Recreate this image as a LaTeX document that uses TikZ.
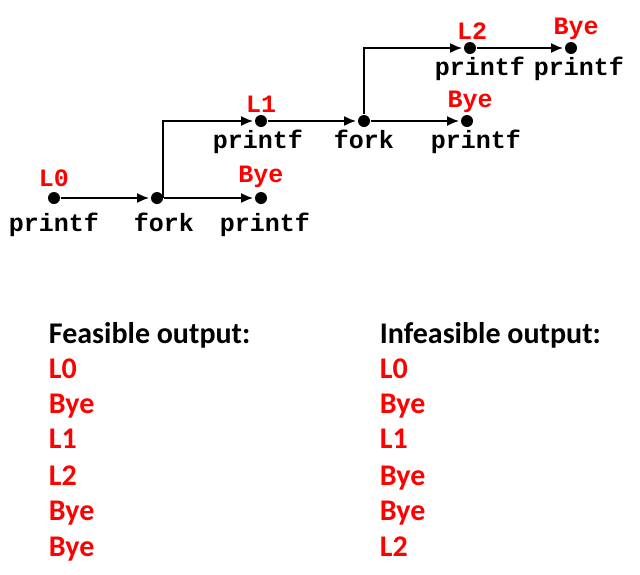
\documentclass[tikz,border=0pt]{standalone}
\usepackage{fontspec}
\setmainfont{Carlito}
\newfontfamily\codefont{Liberation Mono}
\usetikzlibrary{arrows.meta}

\begin{document}
\begin{tikzpicture}[->,>={Latex[length=12pt,width=10pt]},shorten >=1pt,line width=1.8pt,x=1pt,y=-1pt,
  vertex/.style={circle,fill=black,inner sep=0pt,minimum size=12pt},
  msg/.style={text=red,inner sep=1pt,font=\codefont\bfseries\fontsize{25}{25}\selectfont},
  call/.style={inner sep=1pt,font=\codefont\bfseries\fontsize{25}{25}\selectfont},
  txt/.style={anchor=base west,inner sep=0pt,font=\bfseries\fontsize{30}{30}\selectfont},
  redtxt/.style={txt,text=red}]
  \useasboundingbox (0,0) rectangle (640,574);

  \node [vertex,label={[msg,yshift=2pt]above:L0},label={[call,yshift=-6pt]below:printf}] (A) at (54,198) {};
  \node [vertex,label={[call,xshift=7pt,yshift=-6pt]below:fork}] (B) at (157,198) {};
  \node [vertex,label={[msg,yshift=2pt]above:Bye},label={[call,xshift=4pt,yshift=-6pt]below:printf}] (C) at (261,198) {};
  \node [vertex,label={[msg]above:L1},label={[call,xshift=-3pt]below:printf}] (D) at (261,121) {};
  \node [vertex,label={[call]below:fork}] (E) at (364,121) {};
  \node [vertex,label={[msg,xshift=3pt]above:Bye},label={[call,xshift=9pt]below:printf}] (F) at (467,121) {};
  \node [vertex,label={[msg,xshift=2pt]above:L2},label={[call,xshift=10pt]below:printf}] (G) at (470,48) {};
  \node [vertex,label={[msg,xshift=5pt]above:Bye},label={[call,xshift=8pt]below:printf}] (H) at (571,48) {};

  \path (A) edge (B);
  \path (B) edge (C);
  \draw ([xshift=6pt]B.center) |- (D);
  \path (D) edge (E);
  \path (E) edge (F);
  \draw (E) |- (G);
  \path (G) edge (H);

  \node [txt] (F0) at (48,343) {Feasible output:};
  \node [redtxt] (F1) at (48,378) {L0};
  \node [redtxt] (F2) at (48,413) {Bye};
  \node [redtxt] (F3) at (48,448) {L1};
  \node [redtxt] (F4) at (48,485) {L2};
  \node [redtxt] (F5) at (48,520) {Bye};
  \node [redtxt] (F6) at (48,556) {Bye};

  \node [txt] (I0) at (379,343) {Infeasible output:};
  \node [redtxt] (I1) at (379,378) {L0};
  \node [redtxt] (I2) at (379,413) {Bye};
  \node [redtxt] (I3) at (379,448) {L1};
  \node [redtxt] (I4) at (379,485) {Bye};
  \node [redtxt] (I5) at (379,520) {Bye};
  \node [redtxt] (I6) at (379,556) {L2};
\end{tikzpicture}
\end{document}
